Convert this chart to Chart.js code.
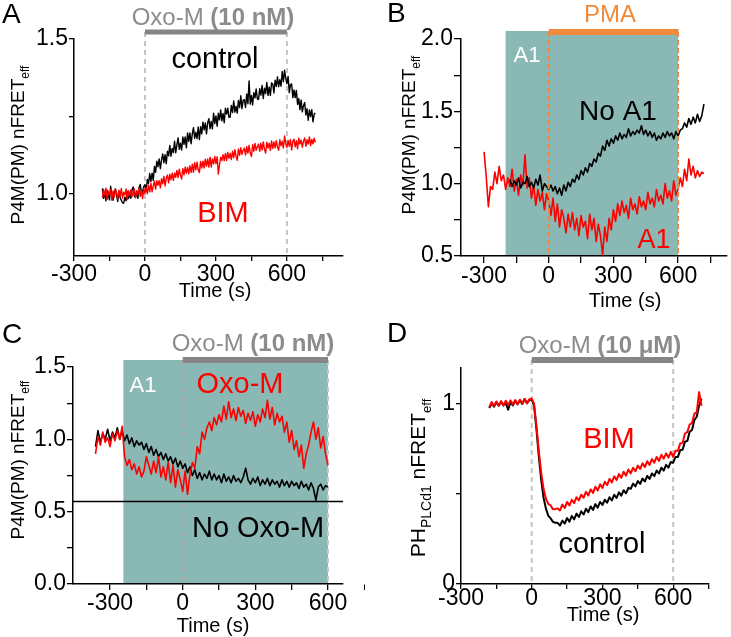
<!DOCTYPE html>
<html><head><meta charset="utf-8">
<script src="https://cdn.jsdelivr.net/npm/chart.js@4/dist/chart.umd.min.js"></script>
<style>
html,body{margin:0;padding:0;background:#fff;width:731px;height:637px;overflow:hidden}
.p{position:absolute}
</style></head><body>
<div class="p" style="left:0;top:0"><canvas id="cA" width="365" height="320"></canvas></div>
<div class="p" style="left:365px;top:0"><canvas id="cB" width="366" height="320"></canvas></div>
<div class="p" style="left:0;top:320px"><canvas id="cC" width="365" height="317"></canvas></div>
<div class="p" style="left:365px;top:320px"><canvas id="cD" width="366" height="317"></canvas></div>
<script>
// ---------- sample times (s) ----------
const time180s5 = [-180,-175,-170,-165,-160,-155,-150,-145,-140,-135,-130,-125,-120,-115,-110,-105,-100,-95,-90,-85,-80,-75,-70,-65,-60,-55,-50,-45,-40,-35,-30,-25,-20,-15,-10,-5,
0,5,10,15,20,25,30,35,40,45,50,55,60,65,70,75,80,85,90,95,100,105,110,115,120,125,130,135,140,145,150,155,160,165,170,175,180,185,190,195,200,205,210,215,220,225,230,235,240,245,250,255,260,265,270,275,280,285,290,295,
300,305,310,315,320,325,330,335,340,345,350,355,360,365,370,375,380,385,390,395,400,405,410,415,420,425,430,435,440,445,450,455,460,465,470,475,480,485,490,495,500,505,510,515,520,525,530,535,540,545,550,555,560,565,570,575,580,585,590,595,
600,605,610,615,620,625,630,635,640,645,650,655,660,665,670,675,680,685,690,695,700,705,710,715,720];
const time180 = [-180,-170,-160,-150,-140,-130,-120,-110,-100,-90,-80,-70,-60,-50,-40,-30,-20,-10,0,10,20,30,40,50,60,70,80,90,100,110,120,130,140,150,160,170,180,190,200,210,220,230,240,250,260,270,280,290,300,310,320,330,340,350,360,370,380,390,400,410,420,430,440,450,460,470,480,490,500,510,520,530,540,550,560,570,580,590,600,610,620,630,640,650,660,670,680,690,700,710,720];
const time300 = [-300,-290,-280,-270,-260,-250,-240,-230,-220,-210,-200,-190,-180,-170,-160,-150,-140,-130,-120,-110,-100,-90,-80,-70,-60,-50,-40,-30,-20,-10,0,10,20,30,40,50,60,70,80,90,100,110,120,130,140,150,160,170,180,190,200,210,220,230,240,250,260,270,280,290,300,310,320,330,340,350,360,370,380,390,400,410,420,430,440,450,460,470,480,490,500,510,520,530,540,550,560,570,580,590,600,610,620,630,640,650,660,670,680,690,700,710,720];
const time360 = [-360,-350,-340,-330,-320,-310,-300,-290,-280,-270,-260,-250,-240,-230,-220,-210,-200,-190,-180,-170,-160,-150,-140,-130,-120,-110,-100,-90,-80,-70,-60,-50,-40,-30,-20,-10,0,10,20,30,40,50,60,70,80,90,100,110,120,130,140,150,160,170,180,190,200,210,220,230,240,250,260,270,280,290,300,310,320,330,340,350,360,370,380,390,400,410,420,430,440,450,460,470,480,490,500,510,520,530,540,550,560,570,580,590,600];

// ---------- Panel A: P4M(PM) nFRETeff, Oxo-M 10 nM ----------
const timeA = time180s5;
const A_control = [1.018,0.986,1.006,0.978,1.012,0.996,0.981,1.025,0.992,0.980,1.003,1.016,
0.994,0.976,1.009,0.988,0.980,0.972,0.970,0.990,0.978,1.008,0.985,0.997,
0.986,1.013,1.023,0.994,0.988,1.010,0.986,1.021,1.031,1.003,1.010,1.024,
1.030,1.009,1.047,1.034,1.066,1.041,1.067,1.044,1.089,1.070,1.106,1.088,
1.113,1.082,1.110,1.129,1.101,1.127,1.098,1.138,1.123,1.157,1.122,1.147,
1.134,1.170,1.133,1.159,1.181,1.144,1.164,1.142,1.184,1.160,1.184,1.149,
1.197,1.170,1.197,1.162,1.194,1.214,1.180,1.199,1.179,1.216,1.176,1.217,
1.194,1.232,1.207,1.229,1.194,1.230,1.243,1.211,1.234,1.210,1.261,1.227,
1.252,1.219,1.261,1.239,1.271,1.236,1.260,1.230,1.277,1.258,1.277,1.247,
1.248,1.286,1.263,1.300,1.264,1.283,1.261,1.302,1.279,1.317,1.275,1.303,
1.304,1.279,1.323,1.291,1.365,1.290,1.318,1.287,1.327,1.310,1.339,1.307,
1.305,1.340,1.319,1.350,1.308,1.341,1.324,1.360,1.318,1.345,1.318,1.358,
1.355,1.326,1.367,1.347,1.378,1.346,1.369,1.348,1.395,1.362,1.399,1.374,
1.356,1.379,1.327,1.353,1.355,1.311,1.336,1.311,1.334,1.289,1.308,1.272,
1.303,1.265,1.285,1.295,1.255,1.275,1.238,1.271,1.250,1.272,1.233,1.257,1.261];
const A_BIM = [0.988,1.015,0.995,1.019,0.983,1.008,0.998,1.014,0.980,1.010,0.991,1.017,
1.004,0.984,1.012,0.992,1.018,0.987,1.006,0.996,1.016,0.982,1.011,0.994,
1.013,0.991,1.005,1.017,0.989,1.009,0.997,1.020,0.992,1.012,0.985,1.018,
1.001,1.021,1.001,1.028,1.007,1.035,1.007,1.026,1.041,1.016,1.043,1.028,
1.043,1.020,1.049,1.033,1.057,1.026,1.052,1.061,1.036,1.064,1.046,1.067,
1.044,1.068,1.054,1.076,1.053,1.080,1.061,1.048,1.082,1.062,1.087,1.067,
1.086,1.065,1.091,1.070,1.096,1.070,1.101,1.078,1.103,1.078,1.069,1.105,
1.084,1.106,1.084,1.112,1.090,1.113,1.087,1.119,1.087,1.113,1.097,1.121,
1.098,1.120,1.064,1.094,1.119,1.108,1.127,1.108,1.131,1.108,1.134,1.115,
1.131,1.111,1.138,1.117,1.143,1.121,1.109,1.145,1.125,1.149,1.128,1.141,
1.148,1.126,1.153,1.132,1.157,1.132,1.121,1.159,1.138,1.163,1.141,1.153,
1.161,1.138,1.164,1.142,1.168,1.144,1.132,1.167,1.148,1.164,1.141,1.171,
1.147,1.168,1.149,1.172,1.152,1.141,1.175,1.155,1.170,1.148,1.187,1.163,
1.150,1.173,1.154,1.176,1.142,1.169,1.177,1.152,1.172,1.146,1.180,1.161,
1.174,1.151,1.170,1.181,1.154,1.175,1.161,1.184,1.156,1.176,1.162,1.180,1.166];

// ---------- Panel B: PMA, with / without A1 ----------
const timeB_A1 = time300;
const B_A1 = [1.220,1.050,0.840,0.980,0.960,1.080,1.000,1.120,1.020,1.060,
0.960,1.040,0.980,1.100,0.950,1.030,0.920,1.060,0.990,1.200,
0.970,1.040,0.900,0.990,0.850,0.960,0.880,0.940,0.820,0.930,
0.880,0.780,0.900,0.740,0.860,0.700,0.820,0.760,0.660,0.790,
0.700,0.800,0.680,0.760,0.640,0.780,0.700,0.740,0.620,0.790,
0.680,0.760,0.600,0.720,0.640,0.510,0.700,0.600,0.760,0.680,
0.820,0.740,0.860,0.780,0.880,0.800,0.850,0.760,0.900,0.820,
0.860,0.790,0.910,0.840,0.880,0.820,0.940,0.860,0.900,0.840,
0.960,0.880,0.920,0.860,1.000,0.900,0.950,0.880,1.020,0.920,
0.960,1.040,0.980,1.100,1.020,1.170,1.060,1.120,1.040,1.090,
1.050,1.080,1.070];
const timeB_noA1 = time180;
const B_noA1 = [1.030,0.980,1.020,0.990,1.040,0.970,1.010,1.000,1.050,0.980,
1.010,0.970,1.030,0.990,1.060,0.950,1.000,0.980,0.960,0.990,
0.950,0.980,0.930,0.970,0.920,0.990,0.950,1.010,0.980,1.030,
1.010,1.060,1.030,1.090,1.060,1.110,1.080,1.140,1.120,1.170,
1.150,1.210,1.190,1.260,1.230,1.300,1.260,1.310,1.280,1.330,
1.300,1.350,1.310,1.340,1.320,1.380,1.330,1.360,1.340,1.370,
1.350,1.400,1.340,1.370,1.330,1.360,1.320,1.350,1.300,1.330,
1.310,1.350,1.320,1.360,1.330,1.350,1.310,1.360,1.330,1.370,
1.380,1.420,1.390,1.450,1.410,1.460,1.420,1.480,1.430,1.470,1.550];

// ---------- Panel C: A1, Oxo-M vs no Oxo-M ----------
const timeC = time360;
const C_noOxoM = [0.950,1.060,0.980,1.040,1.000,1.070,0.990,1.050,1.010,1.080,
1.000,1.060,0.990,1.030,0.970,1.010,0.950,0.990,0.960,0.980,
0.930,0.970,0.910,0.950,0.890,0.930,0.880,0.910,0.860,0.900,
0.850,0.880,0.830,0.870,0.810,0.850,0.800,0.830,0.770,0.810,
0.750,0.790,0.730,0.770,0.720,0.760,0.730,0.780,0.720,0.760,
0.720,0.750,0.700,0.760,0.710,0.740,0.700,0.750,0.710,0.730,
0.700,0.740,0.800,0.720,0.690,0.730,0.700,0.740,0.680,0.720,
0.690,0.730,0.680,0.720,0.690,0.710,0.670,0.720,0.680,0.710,
0.670,0.710,0.680,0.700,0.660,0.710,0.670,0.690,0.650,0.700,
0.660,0.580,0.670,0.690,0.650,0.680,0.670];
const C_OxoM = [0.900,1.020,0.960,1.050,0.980,1.010,0.950,1.040,0.990,1.060,
1.000,1.090,0.880,0.820,0.860,0.790,0.830,0.760,0.810,0.740,
0.780,0.880,0.820,0.760,0.850,0.770,0.880,0.740,0.810,0.720,
0.840,0.700,0.820,0.670,0.790,0.720,0.640,0.780,0.620,0.760,
0.840,0.800,0.950,0.900,1.050,1.000,1.080,1.120,1.060,1.150,
1.100,1.170,1.120,1.230,1.140,1.260,1.150,1.210,1.130,1.220,
1.160,1.200,1.110,1.180,1.130,1.190,1.090,1.170,1.120,1.210,
1.150,1.270,1.140,1.220,1.100,1.180,1.120,1.160,1.050,1.120,
0.980,1.060,0.930,0.990,0.880,0.960,0.800,0.900,0.960,1.050,
1.120,1.000,1.080,0.940,1.020,0.900,0.820];

// ---------- Panel D: PH-PLCd1 nFRETeff, Oxo-M 10 uM ----------
const timeD = time180;
const D_control = [0.978,1.003,0.985,1.010,0.990,1.012,0.992,1.006,0.968,1.010,
0.992,1.018,0.998,1.020,1.000,1.028,1.004,1.022,1.025,0.990,
0.860,0.710,0.580,0.480,0.420,0.380,0.365,0.345,0.340,0.340,
0.325,0.352,0.336,0.366,0.346,0.378,0.359,0.391,0.372,0.404,
0.386,0.418,0.399,0.431,0.412,0.444,0.424,0.456,0.439,0.468,
0.452,0.482,0.464,0.496,0.478,0.509,0.491,0.521,0.504,0.534,
0.529,0.558,0.542,0.572,0.556,0.586,0.570,0.600,0.584,0.614,
0.599,0.630,0.614,0.646,0.630,0.662,0.646,0.678,0.674,0.706,
0.706,0.744,0.746,0.791,0.794,0.846,0.856,0.911,0.929,0.991,1.030];
const D_BIM = [0.983,1.011,0.989,1.014,0.992,1.016,0.993,1.018,0.994,1.020,
0.997,1.022,1.000,1.024,1.002,1.028,1.004,1.026,1.030,1.000,
0.880,0.740,0.620,0.530,0.475,0.445,0.437,0.415,0.417,0.420,
0.409,0.441,0.422,0.456,0.436,0.468,0.449,0.482,0.464,0.496,
0.479,0.512,0.492,0.526,0.506,0.540,0.520,0.554,0.534,0.568,
0.549,0.584,0.564,0.598,0.578,0.611,0.590,0.624,0.602,0.636,
0.614,0.646,0.626,0.658,0.639,0.670,0.650,0.682,0.662,0.694,
0.674,0.706,0.684,0.718,0.696,0.726,0.702,0.734,0.706,0.741,
0.739,0.781,0.784,0.836,0.844,0.886,0.894,0.946,0.954,1.066,0.990];

// ---------- ticks ----------
const xTicks = [-300,-150,0,150,300,450,600,750];
const xTickLabels = [-300,0,300,600];
const yTicksA = [1.0,1.25,1.5], yLabelsA = [1.0,1.5];
const yTicksB = [0.5,0.75,1.0,1.25,1.5,1.75,2.0], yLabelsB = [0.5,1.0,1.5,2.0];
const yTicksC = [0,0.25,0.5,0.75,1.0,1.25,1.5], yLabelsC = [0,0.5,1.0,1.5];
const yTicksD = [0,0.5,1], yLabelsD = [0,1];

// ---------- helpers ----------
const FAM = '"Liberation Sans", Arial, Helvetica, sans-serif';
const F = (s,b) => (b ? 'bold ' : '') + s + 'px ' + FAM;
const RED = '#ff0000', GRAY = '#8c8c8c', DASH = '#c4c4c4', TEAL = '#8ab8b4', ORANGE = '#f08a3c';

function drawRich(ctx, parts, x, y, align) {
  let w = 0;
  parts.forEach(p => { ctx.font = p.font; p._w = ctx.measureText(p.t).width; w += p._w; });
  let cx = align === 'center' ? x - w/2 : (align === 'right' ? x - w : x);
  ctx.textAlign = 'left'; ctx.textBaseline = 'alphabetic';
  parts.forEach(p => { ctx.font = p.font; ctx.fillStyle = p.color || '#000'; ctx.fillText(p.t, cx, y + (p.dy || 0)); cx += p._w; });
}

function decoPlugin(d) {
  function vlines(chart) {
    const {ctx, chartArea:a, scales:{x}} = chart;
    ctx.save();
    (d.vlines || []).forEach(v => {
      const px = x.getPixelForValue(v.x);
      ctx.strokeStyle = v.color; ctx.lineWidth = v.width; ctx.setLineDash(v.dash);
      ctx.beginPath(); ctx.moveTo(px, v.top); ctx.lineTo(px, a.bottom); ctx.stroke();
    });
    ctx.restore();
  }
  return {
    id: 'deco',
    beforeDraw(chart) {
      const {ctx, chartArea:a, scales:{x}} = chart;
      (d.boxes || []).forEach(b => {
        const x0 = x.getPixelForValue(b.x0), x1 = x.getPixelForValue(b.x1);
        ctx.save(); ctx.fillStyle = b.color; ctx.fillRect(x0, b.top, x1 - x0, a.bottom - b.top); ctx.restore();
      });
    },
    beforeDatasetsDraw(chart) {
      const {ctx, chartArea:a, scales:{x,y}} = chart;
      if (!d.vlinesOnTop) vlines(chart);
      ctx.save();
      if (d.hline) {
        const py = y.getPixelForValue(d.hline.y);
        ctx.strokeStyle = d.hline.color; ctx.lineWidth = d.hline.width;
        ctx.beginPath(); ctx.moveTo(a.left, py); ctx.lineTo(a.right, py); ctx.stroke();
      }
      if (d.bar) {
        const x0 = x.getPixelForValue(d.bar.x0), x1 = x.getPixelForValue(d.bar.x1);
        ctx.fillStyle = d.bar.color; ctx.fillRect(x0, d.bar.y - d.bar.h/2, x1 - x0, d.bar.h);
      }
      ctx.restore();
    },
    afterDatasetsDraw(chart) { if (d.vlinesOnTop) vlines(chart); },
    afterDraw(chart) {
      const ctx = chart.ctx;
      ctx.save();
      (d.texts || []).forEach(t => drawRich(ctx, t.parts, t.x, t.y, t.align || 'center'));
      if (d.ytitle) {
        ctx.save(); ctx.translate(d.ytitle.x, d.ytitle.y); ctx.rotate(-Math.PI/2);
        drawRich(ctx, d.ytitle.parts, 0, 0, 'center');
        ctx.restore();
      }
      ctx.restore();
    }
  };
}

function fmt(v, dec) { return dec ? v.toFixed(1) : String(v); }

function panel(id, o) {
  return new Chart(document.getElementById(id), {
    type: 'line',
    data: { datasets: o.series.map(s => ({
      data: s.t.map((t, i) => ({x: t, y: s.v[i]})),
      borderColor: s.color, borderWidth: o.lw, pointRadius: 0, tension: 0, fill: false, order: s.order,
      borderJoinStyle: 'round'
    })) },
    options: {
      responsive: false, animation: false, devicePixelRatio: 1,
      events: [],
      layout: { padding: { top: o.top, right: o.right, left: 0, bottom: 0 } },
      plugins: { legend: { display: false }, tooltip: { enabled: false } },
      scales: {
        x: {
          type: 'linear', min: o.xmin, max: o.xmax,
          afterBuildTicks: sc => { sc.ticks = xTicks.map(v => ({value: v})); },
          afterFit: sc => { sc.height = o.xh; },
          ticks: { autoSkip: false, maxRotation: 0, minRotation: 0, padding: o.xpad, color: '#000',
                   font: { family: FAM, size: 23 },
                   callback: v => xTickLabels.includes(v) ? String(v) : '' },
          grid: { drawOnChartArea: false, drawTicks: true, tickLength: o.tl, color: '#000', lineWidth: 1.3 },
          border: { display: true, color: '#000', width: 1.5 }
        },
        y: {
          type: 'linear', min: o.ymin, max: o.ymax,
          afterBuildTicks: sc => { sc.ticks = o.yticks.map(v => ({value: v})); },
          afterFit: sc => { sc.width = o.yw; },
          ticks: { autoSkip: false, padding: 1, color: '#000', font: { family: FAM, size: 23 },
                   callback: v => o.ylabels.includes(v) ? fmt(v, o.ydec) : '' },
          grid: { drawOnChartArea: false, drawTicks: true, tickLength: o.tl, color: '#000', lineWidth: 1.3 },
          border: { display: true, color: '#000', width: 1.5 }
        }
      }
    },
    plugins: [decoPlugin(o.deco)]
  });
}

const yTitleP4M = [
  {t: 'P4M(PM) nFRET', font: F(19)},
  {t: 'eff', font: F(12), dy: 5}
];
const oxoTitle = (conc) => [
  {t: 'Oxo-M ', font: F(24), color: GRAY},
  {t: '(' + conc + ')', font: F(24, true), color: GRAY}
];

// Panel A
panel('cA', {
  xmin: -300, xmax: 837, ymin: 0.8, ymax: 1.5, yticks: yTicksA, ylabels: yLabelsA, ydec: true,
  top: 39, right: 22, xh: 64, yw: 74, tl: 5, xpad: 0, lw: 1.4,
  series: [
    {t: timeA, v: A_BIM, color: RED, order: 0},
    {t: timeA, v: A_control, color: '#000', order: 1}
  ],
  deco: {
    bar: {x0: 0, x1: 600, y: 32, h: 5, color: '#858585'},
    vlines: [{x: 0, top: 32, color: DASH, width: 2, dash: [5,4]}, {x: 600, top: 32, color: DASH, width: 2, dash: [5,4]}],
    texts: [
      {parts: [{t: 'A', font: F(28)}], x: 2, y: 23, align: 'left'},
      {parts: oxoTitle('10 nM'), x: 213, y: 25},
      {parts: [{t: 'control', font: F(29)}], x: 215, y: 68},
      {parts: [{t: 'BIM', font: F(29), color: RED}], x: 223, y: 222},
      {parts: [{t: 'Time (s)', font: F(20)}], x: 215, y: 297}
    ],
    ytitle: {x: 24, y: 145, parts: yTitleP4M}
  }
});

// Panel B
panel('cB', {
  xmin: -407, xmax: 827, ymin: 0.5, ymax: 2.0, yticks: yTicksB, ylabels: yLabelsB, ydec: true,
  top: 39, right: 4, xh: 64, yw: 96, tl: 7, xpad: 0, lw: 1.6,
  series: [
    {t: timeB_noA1, v: B_noA1, color: '#000', order: 0},
    {t: timeB_A1, v: B_A1, color: RED, order: 1}
  ],
  deco: {
    boxes: [{x0: -200, x1: 600, top: 31, color: TEAL}],
    bar: {x0: 0, x1: 602, y: 32, h: 6, color: ORANGE},
    vlinesOnTop: true,
    vlines: [{x: 0, top: 32, color: ORANGE, width: 2, dash: [5,3]}, {x: 600, top: 32, color: ORANGE, width: 2, dash: [5,3]}],
    texts: [
      {parts: [{t: 'B', font: F(28)}], x: 22, y: 22, align: 'left'},
      {parts: [{t: 'PMA', font: F(24), color: ORANGE}], x: 245, y: 22},
      {parts: [{t: 'A1', font: F(22), color: '#fff'}], x: 162, y: 62},
      {parts: [{t: 'No A1', font: F(28)}], x: 253, y: 120},
      {parts: [{t: 'A1', font: F(27), color: RED}], x: 289, y: 248},
      {parts: [{t: 'Time (s)', font: F(20)}], x: 260, y: 307}
    ],
    ytitle: {x: 50, y: 135, parts: yTitleP4M}
  }
});

// Panel C
panel('cC', {
  xmin: -453, xmax: 662, ymin: 0, ymax: 1.5, yticks: yTicksC, ylabels: yLabelsC, ydec: true,
  top: 47, right: 22, xh: 53, yw: 73, tl: 6, xpad: 0, lw: 1.6,
  series: [
    {t: timeC, v: C_OxoM, color: RED, order: 0},
    {t: timeC, v: C_noOxoM, color: '#000', order: 1}
  ],
  deco: {
    boxes: [{x0: -245, x1: 600, top: 40, color: TEAL}],
    hline: {y: 0.57, color: '#000', width: 1.5},
    bar: {x0: 0, x1: 600, y: 40, h: 6, color: '#858585'},
    vlines: [{x: 0, top: 40, color: '#a9a9a9', width: 2, dash: [5,4]}, {x: 600, top: 40, color: '#c8c8c8', width: 2, dash: [5,4]}],
    texts: [
      {parts: [{t: 'C', font: F(28)}], x: 2, y: 23, align: 'left'},
      {parts: oxoTitle('10 nM'), x: 253, y: 31},
      {parts: [{t: 'A1', font: F(22), color: '#fff'}], x: 143, y: 72},
      {parts: [{t: 'Oxo-M', font: F(29), color: RED}], x: 240, y: 73},
      {parts: [{t: 'No Oxo-M', font: F(29)}], x: 258, y: 217},
      {parts: [{t: 'Time (s)', font: F(20)}], x: 213, y: 312}
    ],
    ytitle: {x: 24, y: 140, parts: yTitleP4M}
  }
});

// Panel D
panel('cD', {
  xmin: -300, xmax: 752, ymin: 0, ymax: 1.2, yticks: yTicksD, ylabels: yLabelsD, ydec: false,
  top: 48, right: 22, xh: 53, yw: 96, tl: 5, xpad: -4, lw: 2,
  series: [
    {t: timeD, v: D_BIM, color: RED, order: 0},
    {t: timeD, v: D_control, color: '#000', order: 1}
  ],
  deco: {
    bar: {x0: 0, x1: 600, y: 40, h: 6, color: '#858585'},
    vlines: [{x: 0, top: 40, color: DASH, width: 2, dash: [5,4]}, {x: 600, top: 40, color: DASH, width: 2, dash: [5,4]}],
    texts: [
      {parts: [{t: 'D', font: F(28)}], x: 22, y: 22, align: 'left'},
      {parts: oxoTitle('10 μM'), x: 235, y: 33},
      {parts: [{t: 'BIM', font: F(29), color: RED}], x: 244, y: 128},
      {parts: [{t: 'control', font: F(29)}], x: 237, y: 233},
      {parts: [{t: 'Time (s)', font: F(20)}], x: 238, y: 301}
    ],
    ytitle: {x: 60, y: 158, parts: [
      {t: 'PH', font: F(21)},
      {t: 'PLCd1', font: F(14), dy: 6},
      {t: ' nFRET', font: F(21)},
      {t: 'eff', font: F(13), dy: 6}
    ]}
  }
});
</script>
</body></html>
